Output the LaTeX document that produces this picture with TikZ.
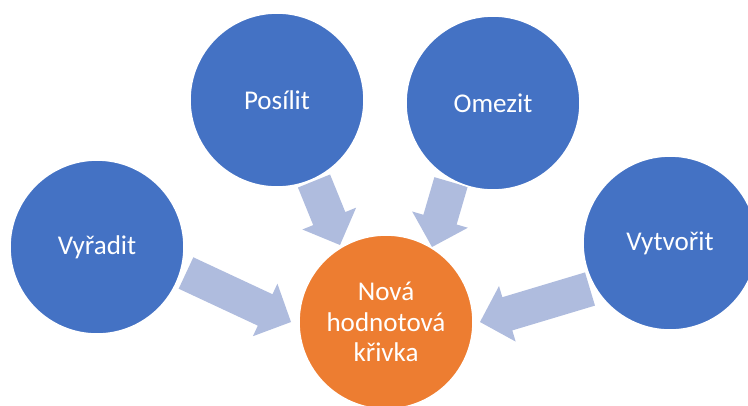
\documentclass[tikz,border=0pt]{standalone}
\usepackage{fontspec}
\setmainfont{Carlito}
\usetikzlibrary{calc,backgrounds}
\definecolor{bluefill}{HTML}{4472C4}
\definecolor{orangefill}{HTML}{ED7D31}
\definecolor{arrowcol}{RGB}{175,188,222}
\tikzset{
  bubble/.style={circle, fill=bluefill, draw=white, line width=1.2pt, minimum size=130.5pt, inner sep=0pt, text=white, font=\fontsize{20.3}{23}\selectfont, align=center},
  hub/.style={bubble, fill=orangefill},
}
\newcommand\blockarrowb[2]{%
  \path ($(#2)!21.4pt!(#1)$) coordinate (hb);
  \fill[arrowcol] ($(#1)!13pt!90:(#2)$) -- ($(hb)!13pt!90:(#2)$) -- ($(hb)!21.75pt!90:(#2)$) -- (#2) -- ($(hb)!21.75pt!-90:(#2)$) -- ($(hb)!13pt!-90:(#2)$) -- ($(#1)!13pt!-90:(#2)$) -- cycle;
}
\begin{document}
\begin{tikzpicture}[x=0.75pt,y=-0.75pt]
\useasboundingbox (0,0) rectangle (748,405);
\clip (0,0) rectangle (748,405);
\node[bubble] (vyradit) at (97,247) {Vyřadit};
\node[bubble] (posilit) at (277,100) {Posílit};
\node[bubble] (omezit) at (493,103) {Omezit};
\node[bubble] (vytvorit) at (670,243) {Vytvořit};
\node[hub] (nova) at (386,322) {Nová\\hodnotová\\křivka};
\coordinate (t1) at (186,273); \coordinate (p1) at (291,322);
\coordinate (t2) at (314,181); \coordinate (p2) at (340,245);
\coordinate (t3) at (451,182); \coordinate (p3) at (432,247);
\coordinate (t4) at (590,289); \coordinate (p4) at (480,322);
\begin{scope}[on background layer]
\blockarrowb{t1}{p1}
\blockarrowb{t2}{p2}
\blockarrowb{t3}{p3}
\blockarrowb{t4}{p4}
\end{scope}
\end{tikzpicture}
\end{document}
